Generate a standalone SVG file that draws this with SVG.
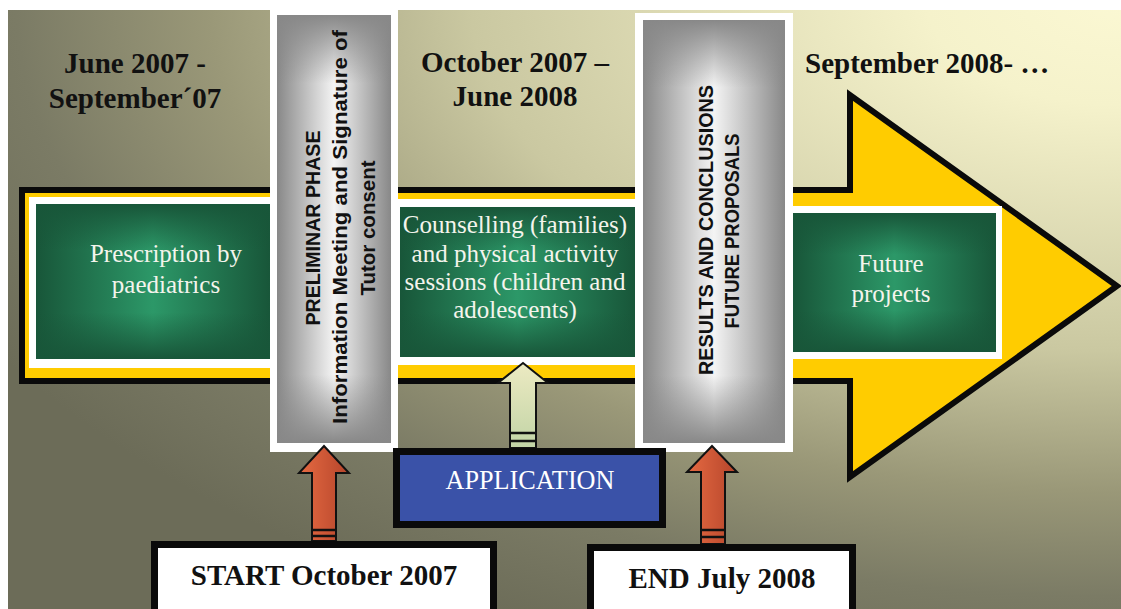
<svg xmlns="http://www.w3.org/2000/svg" width="1121" height="609" viewBox="0 0 1121 609">
<defs>
<radialGradient id="bgGrad" gradientUnits="userSpaceOnUse" cx="0" cy="0" r="1300" gradientTransform="translate(1121,0) scale(1,0.54)">
<stop offset="0" stop-color="#fbf8d3"/>
<stop offset="0.15" stop-color="#f5f2cb"/>
<stop offset="0.5" stop-color="#cac8a1"/>
<stop offset="0.7" stop-color="#9a9878"/>
<stop offset="0.85" stop-color="#7b7b65"/>
<stop offset="1" stop-color="#6c6c58"/>
</radialGradient>
<linearGradient id="grayH" x1="0" y1="0" x2="1" y2="0">
<stop offset="0" stop-color="#888888"/>
<stop offset="0.5" stop-color="#f4f4f4"/>
<stop offset="1" stop-color="#888888"/>
</linearGradient>
<linearGradient id="grayV" x1="0" y1="0" x2="0" y2="1">
<stop offset="0" stop-color="#888888" stop-opacity="1"/>
<stop offset="0.16" stop-color="#888888" stop-opacity="0"/>
<stop offset="0.84" stop-color="#888888" stop-opacity="0"/>
<stop offset="1" stop-color="#888888" stop-opacity="1"/>
</linearGradient>
<linearGradient id="greenH" x1="0" y1="0" x2="1" y2="0">
<stop offset="0" stop-color="#185639"/>
<stop offset="0.5" stop-color="#2c9868"/>
<stop offset="1" stop-color="#185639"/>
</linearGradient>
<linearGradient id="greenV" x1="0" y1="0" x2="0" y2="1">
<stop offset="0" stop-color="#185639" stop-opacity="1"/>
<stop offset="0.3" stop-color="#185639" stop-opacity="0"/>
<stop offset="0.7" stop-color="#185639" stop-opacity="0"/>
<stop offset="1" stop-color="#185639" stop-opacity="1"/>
</linearGradient>
<linearGradient id="redGrad" x1="0" y1="0" x2="1" y2="0">
<stop offset="0" stop-color="#e66a42"/>
<stop offset="1" stop-color="#b5452b"/>
</linearGradient>
<linearGradient id="lightGrad" x1="0" y1="0" x2="0" y2="1">
<stop offset="0" stop-color="#eceac2"/>
<stop offset="1" stop-color="#c2d4a6"/>
</linearGradient>
<style>
.date{font-family:"Liberation Serif","Times New Roman",serif;font-weight:bold;font-size:29px;fill:#111;}
.gtxt{font-family:"Liberation Serif","Times New Roman",serif;font-size:25px;fill:#f4f4ec;text-anchor:middle;}
.vtxt{font-family:"Liberation Sans",Arial,sans-serif;font-weight:bold;font-size:21px;fill:#111;text-anchor:middle;}
.btxt{font-family:"Liberation Serif","Times New Roman",serif;font-weight:bold;font-size:29px;fill:#111;text-anchor:middle;}
.white{fill:#ffffff;}
.conn{stroke:#111;stroke-width:2;stroke-linejoin:miter;}
.stripe{stroke:#111;stroke-width:2.5;}
.box{fill:#ffffff;stroke:#0a0a0a;stroke-width:7;}
</style>
</defs>

<rect x="0" y="0" width="1121" height="609" fill="#ffffff"/>
<rect x="8" y="10" width="1113" height="599" fill="url(#bgGrad)"/>

<g id="timeline-arrow">
<path d="M22,190 H850 V95 L1117,286 L850,477 V381 H22 Z" fill="#ffcc00" stroke="#0a0a0a" stroke-width="6" stroke-linejoin="miter" stroke-miterlimit="10"/>
</g>

<g id="date-1">
<text class="date" x="135" y="73" text-anchor="middle">June 2007 -</text>
<text class="date" x="135" y="108" text-anchor="middle">September´07</text>
</g>
<g id="date-2">
<text class="date" x="515" y="72" text-anchor="middle">October 2007 –</text>
<text class="date" x="515" y="106" text-anchor="middle">June 2008</text>
</g>
<g id="date-3">
<text class="date" x="805" y="73">September 2008- …</text>
</g>

<g id="node-prescription">
<rect class="white" x="29" y="197" width="241" height="171"/>
<rect x="36" y="204" width="234" height="155" fill="url(#greenH)"/>
<rect x="36" y="204" width="234" height="155" fill="url(#greenV)"/>
<text class="gtxt" x="166" y="262">Prescription by</text>
<text class="gtxt" x="166" y="293">paediatrics</text>
</g>

<g id="node-counselling">
<rect class="white" x="398" y="199" width="240" height="166"/>
<rect x="400" y="207" width="235" height="150" fill="url(#greenH)"/>
<rect x="400" y="207" width="235" height="150" fill="url(#greenV)"/>
<text class="gtxt" x="515" y="233" font-size="24">Counselling (families)</text>
<text class="gtxt" x="515" y="262" font-size="24">and physical activity</text>
<text class="gtxt" x="515" y="290" font-size="24">sessions (children and</text>
<text class="gtxt" x="515" y="318" font-size="24">adolescents)</text>
</g>

<g id="node-future">
<rect class="white" x="786" y="206" width="216" height="153"/>
<rect x="793" y="213" width="203" height="139" fill="url(#greenH)"/>
<rect x="793" y="213" width="203" height="139" fill="url(#greenV)"/>
<text class="gtxt" x="891" y="272" font-size="26">Future</text>
<text class="gtxt" x="891" y="302" font-size="26">projects</text>
</g>

<g id="node-preliminar">
<rect class="white" x="270" y="7" width="128" height="445"/>
<rect x="277" y="15" width="114" height="428" fill="url(#grayH)"/>
<rect x="277" y="15" width="114" height="428" fill="url(#grayV)"/>
<text class="vtxt" transform="translate(320,228) rotate(-90)" textLength="195" lengthAdjust="spacingAndGlyphs">PRELIMINAR PHASE</text>
<text class="vtxt" transform="translate(347,227) rotate(-90)" textLength="394" lengthAdjust="spacingAndGlyphs">Information Meeting and Signature of</text>
<text class="vtxt" transform="translate(375,228) rotate(-90)" textLength="135" lengthAdjust="spacingAndGlyphs">Tutor consent</text>
</g>

<g id="node-results">
<rect class="white" x="635" y="13" width="158" height="439"/>
<rect x="643" y="20" width="142" height="423" fill="url(#grayH)"/>
<rect x="643" y="20" width="142" height="423" fill="url(#grayV)"/>
<text class="vtxt" transform="translate(713,230) rotate(-90)" textLength="290" lengthAdjust="spacingAndGlyphs">RESULTS AND CONCLUSIONS</text>
<text class="vtxt" transform="translate(739,231) rotate(-90)" textLength="195" lengthAdjust="spacingAndGlyphs">FUTURE PROPOSALS</text>
</g>

<g id="connectors">
<path class="conn" d="M324,446 L349,473 L336,473 L336,541 L312,541 L312,473 L299,473 Z" fill="url(#redGrad)"/>
<line class="stripe" x1="312" y1="530" x2="336" y2="530"/>
<line class="stripe" x1="312" y1="536" x2="336" y2="536"/>
<path class="conn" d="M712,446 L737,472 L725,472 L725,544 L701,544 L701,472 L687,472 Z" fill="url(#redGrad)"/>
<line class="stripe" x1="701" y1="530" x2="725" y2="530"/>
<line class="stripe" x1="701" y1="537" x2="725" y2="537"/>
<path class="conn" d="M523,363 L548,383 L536,383 L536,448 L510,448 L510,383 L498,383 Z" fill="url(#lightGrad)"/>
<line class="stripe" x1="510" y1="433" x2="536" y2="433"/>
<line class="stripe" x1="510" y1="441" x2="536" y2="441"/>
</g>

<g id="node-application">
<rect x="396.5" y="451.5" width="266" height="73" fill="#3a52a8" stroke="#0a0a0a" stroke-width="7"/>
<text x="530" y="489" font-family="'Liberation Serif','Times New Roman',serif" font-size="27" fill="#ffffff" text-anchor="middle" textLength="169" lengthAdjust="spacingAndGlyphs">APPLICATION</text>
</g>

<g id="node-start">
<rect class="box" x="154.5" y="544.5" width="339" height="80"/>
<text class="btxt" x="324" y="585">START October 2007</text>
</g>

<g id="node-end">
<rect class="box" x="590.5" y="547.5" width="262" height="80"/>
<text class="btxt" x="722" y="588">END July 2008</text>
</g>
</svg>
